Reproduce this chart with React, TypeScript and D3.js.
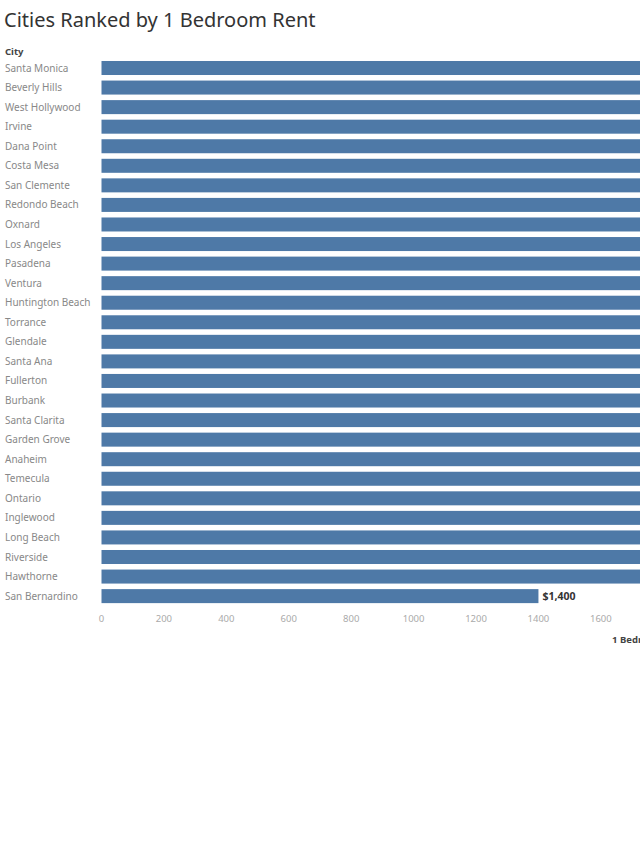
import React from "react";
import * as d3 from "d3";

const cities = [
  "Santa Monica", "Beverly Hills", "West Hollywood", "Irvine", "Dana Point", "Costa Mesa",
  "San Clemente", "Redondo Beach", "Oxnard", "Los Angeles", "Pasadena", "Ventura",
  "Huntington Beach", "Torrance", "Glendale", "Santa Ana", "Fullerton", "Burbank",
  "Santa Clarita", "Garden Grove", "Anaheim", "Temecula", "Ontario", "Inglewood",
  "Long Beach", "Riverside", "Hawthorne", "San Bernardino",
];
const rents = [
  3400, 3200, 2900, 2500, 2400, 2300, 2250, 2200, 2150, 2100, 2050, 2000,
  2000, 1950, 1950, 1900, 1850, 1850, 1800, 1800, 1780, 1760, 1750, 1750,
  1740, 1730, 1730, 1400,
];
const tickValues = [0, 200, 400, 600, 800, 1000, 1200, 1400, 1600, 1800, 2000, 2200, 2400, 2600, 2800, 3000, 3200, 3400];

const FONT = "'Noto Sans', 'Open Sans', sans-serif";

export default function App() {
  const W = 640, H = 853;
  const x = d3.scaleLinear().domain([0, 1600]).range([101.5, 101.5 + 1600 * 0.3121]);
  const n = cities.length;
  const step = 19.56;
  const y = d3.scaleBand<string>().domain(cities).range([58.22, 58.22 + step * n]).paddingInner(0.284).paddingOuter(0.142);
  const fmt = (v: number) => "$" + d3.format(",")(v);
  const last = y(cities[n - 1])! + y.bandwidth();
  return (
    <svg width={W} height={H} style={{ position: "absolute", left: 0, top: 0, background: "#fff" }} fontFamily={FONT}>
      <text x={4} y={27} fontSize={20} fill="#333">Cities Ranked by 1 Bedroom Rent</text>
      <text x={5} y={54.5} fontSize={9.5} fontWeight="bold" fill="#444">City</text>
      {cities.map((c, i) => (
        <g key={c}>
          <text x={5} y={y(c)! + y.bandwidth() / 2} dy="0.35em" fontSize={10} fill="#888">{c}</text>
          <rect x={x(0)} y={y(c)} width={x(rents[i]) - x(0)} height={y.bandwidth()} fill="#4e79a7" />
          {x(rents[i]) + 40 < W && (
            <text x={x(rents[i]) + 4} y={y(c)! + y.bandwidth() / 2} dy="0.35em" fontSize={10.5} fontWeight="bold" fill="#333">{fmt(rents[i])}</text>
          )}
        </g>
      ))}
      {tickValues.filter((t) => x(t) + 12 < W).map((t) => (
        <text key={t} x={x(t)} y={last + 19} textAnchor="middle" fontSize={9.5} fill="#aaa">{t}</text>
      ))}
      <text x={612} y={643} fontSize={9.5} fontWeight="bold" fill="#444">1 Bedroom Rent</text>
    </svg>
  );
}
